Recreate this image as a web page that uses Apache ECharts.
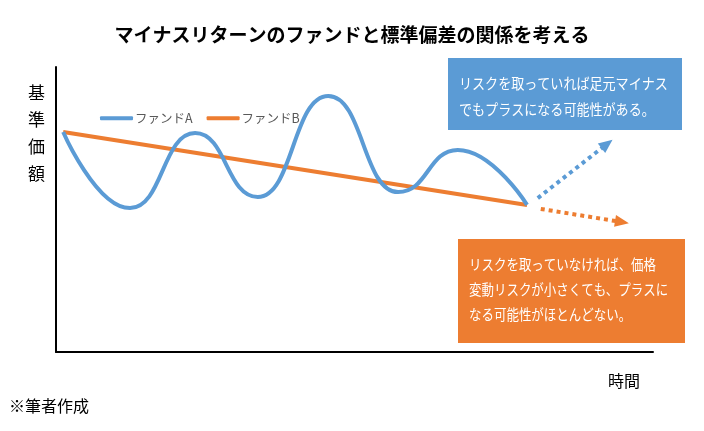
<!DOCTYPE html>
<html><head><meta charset="utf-8">
<script src="https://cdn.jsdelivr.net/npm/echarts@6/dist/echarts.min.js"></script>
<style>html,body{margin:0;padding:0;background:#fff}#c{width:704px;height:431px}</style>
</head><body><div id="c"></div>
<script>
// Data (x: relative time 0-100, y: relative NAV 0-100)
const fundAX = [1.2, 12.4, 23.3, 33.8, 45.6, 57.3, 67.3, 78.9];
const fundAY = [77.2, 50.5, 76.8, 54.4, 89.8, 56.1, 70.9, 51.6];
const fundBX = [1.2, 78.9];
const fundBY = [77.2, 51.6];
const arrowA = [[80.7, 54.0], [92.3, 73.0]];
const arrowB = [[81.2, 50.2], [94.8, 45.6]];
const seriesNames = ['ファンドA', 'ファンドB'];
const titleText = 'マイナスリターンのファンドと標準偏差の関係を考える';
const yName = '基準価額';
const xName = '時間';
const noteA = ['リスクを取っていれば足元マイナス', 'でもプラスになる可能性がある。'];
const noteB = ['リスクを取っていなければ、価格', '変動リスクが小さくても、プラスに', 'なる可能性がほとんどない。'];
const source = '※筆者作成';

const blue = '#5B9BD5', orange = '#ED7D31';
const font = '"Noto Sans CJK JP", sans-serif';
const zip = (xs, ys) => xs.map((x, i) => [x, ys[i]]);

const chart = echarts.init(document.getElementById('c'));
chart.setOption({
  animation: false,
  textStyle: {fontFamily: font},
  title: {text: titleText, left: 'center', top: 20,
    textStyle: {fontSize: 19, fontWeight: 'bold', color: '#000', fontFamily: font}},
  grid: {left: 56, right: 51, top: 67, bottom: 79},
  legend: {left: 95, top: 107, itemWidth: 33, itemHeight: 4, itemGap: 14, icon: 'roundRect',
    textStyle: {color: '#595959', fontSize: 12.5, fontFamily: font, padding: [0, 0, 0, -3]},
    data: seriesNames},
  xAxis: {type: 'value', min: 0, max: 100, axisLine: {show: true, lineStyle: {color: '#000', width: 2}},
    axisTick: {show: false}, axisLabel: {show: false}, splitLine: {show: false}},
  yAxis: {type: 'value', min: 0, max: 100, axisLine: {show: true, lineStyle: {color: '#000', width: 2}},
    axisTick: {show: false}, axisLabel: {show: false}, splitLine: {show: false}},
  series: [
    {name: seriesNames[0], type: 'line', data: zip(fundAX, fundAY), smooth: 0.5, smoothMonotone: 'x',
      showSymbol: false, symbol: 'none', color: blue, lineStyle: {width: 4, color: blue}, z: 3,
      markLine: {silent: true, symbol: ['none', 'triangle'], symbolSize: [12, 14], label: {show: false},
        lineStyle: {color: blue, width: 4, type: [4, 4]},
        data: [[{coord: arrowA[0]}, {coord: arrowA[1]}]]}},
    {name: seriesNames[1], type: 'line', data: zip(fundBX, fundBY), showSymbol: false,
      symbol: 'none', color: orange, lineStyle: {width: 4, color: orange}, z: 2,
      markLine: {silent: true, symbol: ['none', 'triangle'], symbolSize: [12, 14], label: {show: false},
        lineStyle: {color: orange, width: 4, type: [4, 4]},
        data: [[{coord: arrowB[0]}, {coord: arrowB[1]}]]}}
  ],
  graphic: [
    {type: 'text', left: 28, top: 79, style: {text: yName.split('').join('\n'), font: '17px ' + font,
      fill: '#000', lineHeight: 27, align: 'center'}},
    {type: 'text', left: 608, top: 373, style: {text: xName, font: '16px ' + font, fill: '#000'}},
    {type: 'text', left: 9, top: 398, style: {text: source, font: '16px ' + font, fill: '#000'}},
    {type: 'rect', shape: {x: 448, y: 58, width: 234, height: 72}, style: {fill: blue}},
    {type: 'text', x: 459, y: 70, scaleX: 0.9, style: {text: noteA.join('\n'), font: '14.5px ' + font,
      fill: '#fff', lineHeight: 26}},
    {type: 'rect', shape: {x: 458, y: 239, width: 227, height: 104}, style: {fill: orange}},
    {type: 'text', x: 469, y: 252, scaleX: 0.86, style: {text: noteB.join('\n'), font: '14.5px ' + font,
      fill: '#fff', lineHeight: 25}}
  ]
});
</script></body></html>
